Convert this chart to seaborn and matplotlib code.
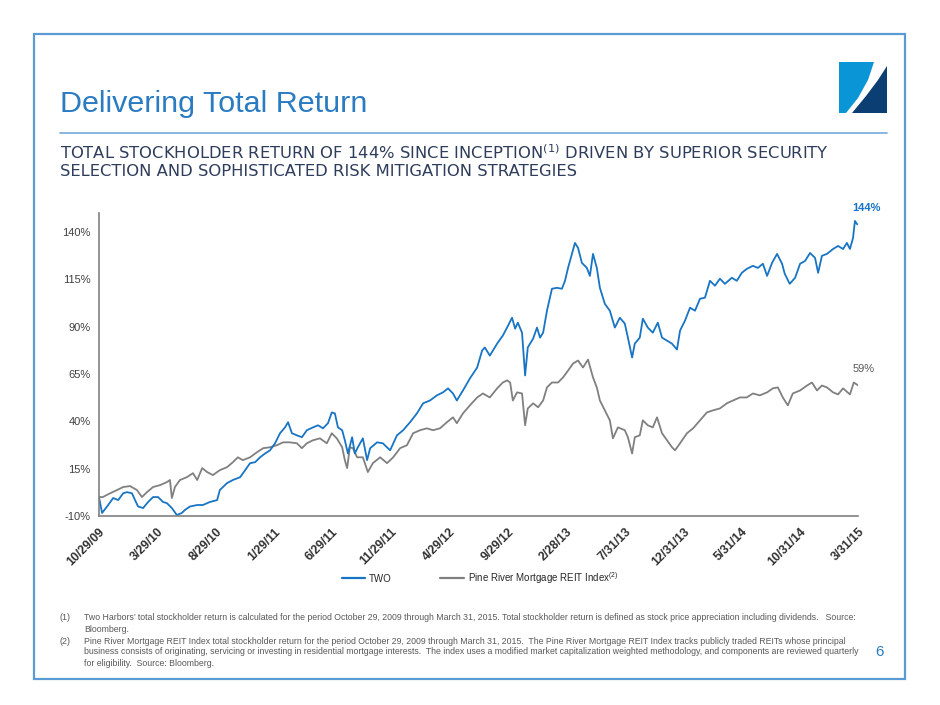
import pandas as pd
import seaborn as sns
import matplotlib.pyplot as plt
from matplotlib.lines import Line2D
from matplotlib.patches import Polygon, Rectangle


# days since inception (10/29/2009) and cumulative total return (%)
two_days = [0, 8, 21, 37, 50, 63, 73, 86, 94, 102, 115, 128, 141, 154, 167, 177, 190, 203, 216, 224,
            237, 256, 271, 289, 308, 315, 334, 349, 368, 381, 394, 407, 420, 433, 446, 459, 472, 485, 493, 503,
            516, 529, 542, 558, 571, 584, 597, 607, 615, 623, 634, 641, 649, 660, 667, 675, 688, 699, 707, 725,
            740, 759, 777, 793, 811, 829, 845, 863, 881, 897, 910, 923, 933, 949, 967, 986, 999, 1006, 1019, 1038,
            1053, 1064, 1077, 1085, 1092, 1103, 1111, 1118, 1132, 1142, 1150, 1158, 1168, 1181, 1194, 1207, 1215, 1223, 1233, 1241,
            1249, 1259, 1272, 1280, 1288, 1298, 1306, 1319, 1332, 1345, 1358, 1371, 1379, 1390, 1397, 1410, 1418, 1431, 1444, 1457,
            1468, 1481, 1494, 1507, 1515, 1528, 1541, 1554, 1567, 1580, 1593, 1606, 1619, 1632, 1650, 1663, 1676, 1689, 1705, 1718,
            1731, 1742, 1755, 1768, 1781, 1788, 1801, 1815, 1828, 1841, 1854, 1867, 1875, 1885, 1898, 1914, 1927, 1940, 1950, 1958,
            1966, 1971, 1976, 1979]
two_ret = [0, -8.4, -5, -0.5, -1.6, 2, 2.6, 2, -1.6, -5, -5.8, -2.6, 0, 0, -2.6, -3.2, -5.8, -9.5, -8.4, -6.8,
           -5, -4.2, -4.2, -2.6, -1.6, 3.7, 7.4, 9, 10.5, 14.2, 17.9, 18.4, 21, 23, 24.7, 28.4, 33.7, 36.8, 39.5, 33.7,
           32.6, 31.6, 35.3, 36.8, 37.9, 36.3, 39, 44.7, 44.2, 36.8, 35.3, 30, 23, 31.6, 23, 26.3, 31, 19.5, 25.8, 28.9,
           28.4, 24.7, 32.6, 35.3, 39.5, 44.2, 49.5, 51, 53.7, 55.3, 57.4, 54.7, 51, 56.3, 62.6, 68.4, 77.4, 79, 74.7, 81,
           85.3, 89.5, 94.7, 88.9, 92.1, 86.8, 64.2, 79, 83.7, 89.5, 84.2, 86.8, 98.4, 110, 110.5, 110, 114.2, 121, 128.4, 134.2,
           131.6, 123.7, 121, 116.8, 128.4, 121, 110.5, 102, 98.4, 89.5, 94.7, 91.6, 84.2, 73.7, 81, 84.2, 94.2, 89.5, 86.8, 92.1,
           84.2, 82.6, 81, 77.9, 87.9, 93.2, 100, 98.4, 104.7, 105.3, 114.2, 111.6, 115.3, 112.6, 115.8, 114.2, 118.4, 120.5, 122.1, 121,
           123.2, 116.8, 123.7, 128.4, 123.2, 117.9, 112.6, 115.8, 123.2, 124.7, 128.9, 126.3, 118.4, 127.4, 128.4, 131, 132.6, 131, 134.2, 131,
           136.8, 145.8, 144.2, 144]

reit_days = [0, 10, 29, 47, 63, 81, 99, 112, 125, 141, 159, 177, 185, 190, 198, 211, 229, 245, 256, 269,
             282, 297, 315, 334, 349, 362, 375, 394, 412, 428, 446, 464, 480, 498, 516, 529, 542, 558, 576, 594,
             607, 620, 634, 641, 647, 654, 662, 673, 688, 701, 714, 733, 751, 767, 785, 803, 819, 837, 855, 871,
             889, 907, 923, 933, 949, 967, 986, 1001, 1019, 1038, 1053, 1064, 1072, 1079, 1090, 1103, 1111, 1118, 1132, 1145,
             1158, 1168, 1181, 1197, 1210, 1223, 1236, 1249, 1262, 1275, 1288, 1298, 1306, 1319, 1332, 1340, 1353, 1371, 1379, 1390,
             1397, 1410, 1418, 1431, 1444, 1455, 1468, 1481, 1494, 1502, 1515, 1533, 1549, 1567, 1585, 1601, 1619, 1637, 1653, 1671,
             1689, 1705, 1723, 1742, 1757, 1770, 1783, 1796, 1809, 1828, 1846, 1859, 1872, 1885, 1898, 1914, 1927, 1940, 1958, 1968,
             1979]
reit_ret = [0, 0, 2, 3.7, 5.3, 5.8, 3.7, 0, 2.6, 5.3, 6.3, 7.9, 9, -0.5, 5.3, 9, 10.5, 12.6, 9, 15.3,
            13.2, 11.6, 14.2, 15.8, 18.4, 21, 19.5, 21, 23.7, 25.8, 26.3, 27.4, 28.9, 28.9, 28.4, 25.8, 28.4, 30, 31, 28.4,
            33.7, 31, 26.3, 19.5, 15.3, 26.3, 25.8, 21, 21, 13.2, 17.9, 21, 17.9, 21, 25.8, 27.4, 33.7, 35.3, 36.3, 35.3,
            36.3, 39.5, 42.1, 39, 44.2, 48.4, 52.6, 54.7, 52.6, 57.4, 60.5, 61.6, 60.5, 51, 55.3, 54.7, 37.9, 46.8, 49.5, 47.4,
            51, 57.9, 60.5, 60.5, 63.2, 66.8, 70.5, 72.1, 68.4, 72.6, 63.2, 57.9, 51, 45.8, 40.5, 31, 36.8, 35.3, 31.6, 23,
            31.6, 32.6, 40.5, 37.9, 36.8, 42.1, 33.7, 30, 26.3, 24.7, 28.4, 33.7, 36.3, 40.5, 44.7, 45.8, 46.8, 49.5, 51, 52.6,
            52.6, 54.7, 53.7, 55.3, 57.4, 57.9, 52.6, 48.4, 54.7, 56.3, 58.9, 60.5, 56.3, 58.9, 57.9, 55.3, 54.2, 57.4, 54.2, 60.5,
            59]

tick_dates = ["2009-10-29", "2010-03-29", "2010-08-29", "2011-01-29", "2011-06-29", "2011-11-29", "2012-04-29",
              "2012-09-29", "2013-02-28", "2013-07-31", "2013-12-31", "2014-05-31", "2014-10-31", "2015-03-31"]
tick_labels = ["10/29/09", "3/29/10", "8/29/10", "1/29/11", "6/29/11", "11/29/11", "4/29/12",
               "9/29/12", "2/28/13", "7/31/13", "12/31/13", "5/31/14", "10/31/14", "3/31/15"]
y_ticks = [-10, 15, 40, 65, 90, 115, 140]

BLUE = "#1874c4"
GRAY = "#808080"
BORDER = "#5a9bd5"
TITLE_BLUE = "#2a7bc2"
NAVY = "#2f3d5c"

start = pd.Timestamp("2009-10-29")
two = pd.DataFrame({"date": start + pd.to_timedelta(two_days, unit="D"), "ret": two_ret})
reit = pd.DataFrame({"date": start + pd.to_timedelta(reit_days, unit="D"), "ret": reit_ret})

sns.set_style("white")
plt.rcParams["font.family"] = ["Liberation Sans", "DejaVu Sans"]

fig = plt.figure(figsize=(9.4, 7.05), dpi=100)
renderer = fig.canvas.get_renderer()


def fpx(x, y):
    return (x / 940, 1 - y / 705)


def fit_width(texts, width_px):
    # shrink a block of texts so its widest line spans width_px
    widest = max(t.get_window_extent(renderer).width for t in texts)
    for t in texts:
        t.set_fontsize(t.get_fontsize() * width_px / widest)


# slide frame
fig.patches.append(Rectangle(fpx(34, 679), 871 / 940, 645 / 705, transform=fig.transFigure,
                             fill=False, edgecolor=BORDER, linewidth=1.6))
fig.add_artist(Line2D([60 / 940, 887 / 940], [1 - 133 / 705] * 2, transform=fig.transFigure,
                      color="#7fb0dd", linewidth=1.3))

# logo
fig.patches.append(Polygon([fpx(839, 62), fpx(874, 62), fpx(868, 80), fpx(858, 98), fpx(846, 113), fpx(839, 113)],
                           closed=True, transform=fig.transFigure, facecolor="#0a96d6", edgecolor="none"))
fig.patches.append(Polygon([fpx(887, 66), fpx(887, 113), fpx(852, 113), fpx(866, 96), fpx(878, 80)],
                           closed=True, transform=fig.transFigure, facecolor="#0b3f74", edgecolor="none"))

title = fig.text(60 / 940, 1 - 104 / 705, "Delivering Total Return", fontsize=21, color=TITLE_BLUE,
                 va="center", ha="left")
fit_width([title], 308)

sub1 = fig.text(60 / 940, 1 - 153 / 705,
                r"TOTAL STOCKHOLDER RETURN OF 144% SINCE INCEPTION$^{\mathregular{(1)}}$ DRIVEN BY SUPERIOR SECURITY",
                fontsize=10, color=NAVY, va="center", ha="left", family="DejaVu Sans")
sub2 = fig.text(60 / 940, 1 - 172 / 705, "SELECTION AND SOPHISTICATED RISK MITIGATION STRATEGIES",
                fontsize=10, color=NAVY, va="center", ha="left", family="DejaVu Sans")
fit_width([sub1, sub2], 770)

ax = fig.add_axes([99 / 940, 1 - 516 / 705, 759 / 940, 303 / 705])
sns.lineplot(data=reit, x="date", y="ret", color=GRAY, linewidth=1.3, ax=ax)
sns.lineplot(data=two, x="date", y="ret", color=BLUE, linewidth=1.3, ax=ax)

ax.set_xlim(pd.Timestamp(tick_dates[0]), pd.Timestamp(tick_dates[-1]))
ax.set_ylim(-10, 150)
ax.set_yticks(y_ticks)
ax.set_yticklabels([f"{v}%" for v in y_ticks], fontsize=8, color="#404040")
ax.set_xticks(pd.to_datetime(tick_dates))
ax.set_xticklabels(tick_labels, rotation=45, ha="right", va="top", rotation_mode="anchor",
                   fontsize=8.8, color="#303030", fontweight="bold")
ax.set_xlabel("")
ax.set_ylabel("")
ax.tick_params(axis="x", length=4, color=GRAY, pad=3)
ax.tick_params(axis="y", length=0, pad=6)
sns.despine(ax=ax)
for side in ("left", "bottom"):
    ax.spines[side].set_color(GRAY)
    ax.spines[side].set_linewidth(1.2)

ax.annotate(f"{two_ret[-1]:.0f}%", (two.date.iloc[-1], two_ret[-1]), xytext=(6, 8),
            textcoords="offset points", ha="center", va="bottom", fontsize=8, fontweight="bold", color=BLUE)
ax.annotate(f"{reit_ret[-1]:.0f}%", (reit.date.iloc[-1], reit_ret[-1]), xytext=(4, 8),
            textcoords="offset points", ha="center", va="bottom", fontsize=8, color="#595959")

handles = [Line2D([], [], color=BLUE, linewidth=1.6), Line2D([], [], color=GRAY, linewidth=1.6)]
fig.legend(handles, ["TWO", r"Pine River Mortgage REIT Index$^{\mathregular{(2)}}$"], loc="center",
           bbox_to_anchor=(480 / 940, 1 - 578 / 705), ncol=2, frameon=False, fontsize=7,
           handlelength=2.4, columnspacing=5, handletextpad=0.4)

notes = [
    (618, "(1)", "Two Harbors\u2019 total stockholder return is calculated for the period October 29, 2009 through March 31, 2015. Total stockholder return is defined as stock price appreciation including dividends.   Source:"),
    (630, "", "Bloomberg."),
    (641, "(2)", "Pine River Mortgage REIT Index total stockholder return for the period October 29, 2009 through March 31, 2015.  The Pine River Mortgage REIT Index tracks publicly traded REITs whose principal"),
    (652, "", "business consists of originating, servicing or investing in residential mortgage interests.  The index uses a modified market capitalization weighted methodology, and components are reviewed quarterly"),
    (663, "", "for eligibility.  Source: Bloomberg."),
]
note_texts = []
for y, num, txt in notes:
    if num:
        fig.text(60 / 940, 1 - y / 705, num, fontsize=6.5, color="#595959", va="center")
    note_texts.append(fig.text(84 / 940, 1 - y / 705, txt, fontsize=6.5, color="#595959", va="center"))
fit_width(note_texts, 773)

fig.text(880 / 940, 1 - 652 / 705, "6", fontsize=11, color=TITLE_BLUE, va="center", ha="center")

fig.savefig("out.png", dpi=100)
